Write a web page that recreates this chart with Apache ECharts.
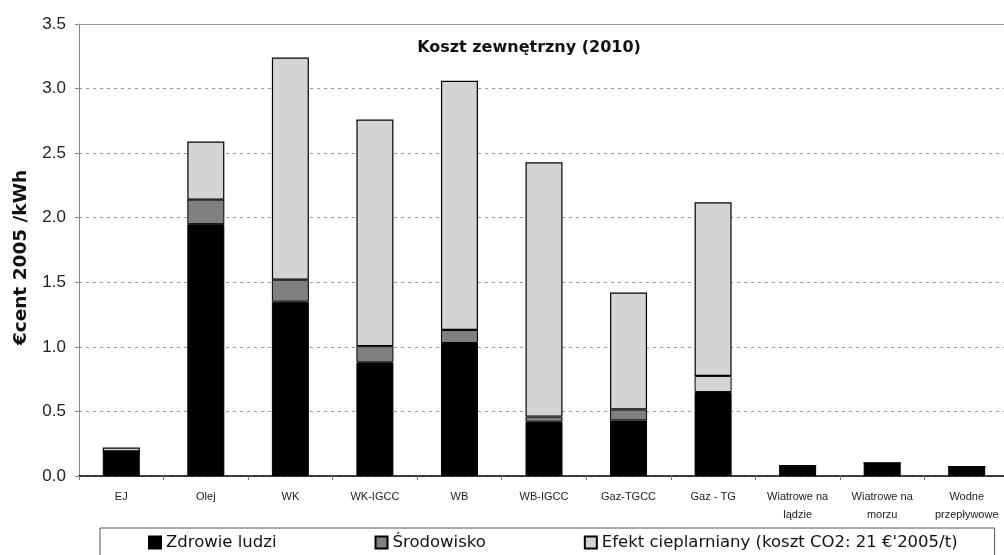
<!DOCTYPE html>
<html>
<head>
<meta charset="utf-8">
<script src="https://cdn.jsdelivr.net/npm/echarts@6/dist/echarts.min.js"></script>
<style>html,body{margin:0;padding:0;background:#fff;}#c{width:1004px;height:555px;}</style>
</head>
<body>
<div id="c"></div>
<script>
const categories = ['EJ','Olej','WK','WK-IGCC','WB','WB-IGCC','Gaz-TGCC','Gaz - TG','Wiatrowe na\nlądzie','Wiatrowe na\nmorzu','Wodne\nprzepływowe'];
const zdrowie = [0.19, 1.95, 1.35, 0.88, 1.03, 0.42, 0.43, 0.65, 0.08, 0.10, 0.072];
const srodowisko = [0, 0.19, 0.17, 0.125, 0.10, 0.04, 0.085, 0.125, 0, 0, 0];
const efekt = [0.03, 0.45, 1.72, 1.755, 1.93, 1.97, 0.905, 1.345, 0, 0, 0];
const yTicks = [0, 0.5, 1.0, 1.5, 2.0, 2.5, 3.0, 3.5];
const seriesNames = ['Zdrowie ludzi', 'Środowisko', "Efekt cieplarniany (koszt CO2: 21 €'2005/t)"];
// in the source, the Gaz - TG middle segment is drawn in light grey
const lightSegmentIndex = 7;

const FONT = 'Liberation Sans, Arial, sans-serif';
const WIDE = 'DejaVu Sans, sans-serif';
const chart = echarts.init(document.getElementById('c'));
const barBase = { type: 'bar', stack: 'total', barWidth: 37, xAxisIndex: 0 };
const envData = srodowisko.map((v, i) => i === lightSegmentIndex ? { value: v, itemStyle: { color: '#d4d4d4' } } : v);

chart.setOption({
  animation: false,
  backgroundColor: '#fff',
  title: {
    text: 'Koszt zewnętrzny (2010)',
    left: 524, top: 35, textAlign: 'center',
    textStyle: { fontFamily: WIDE, fontSize: 16, fontWeight: 'bold', color: '#111' }
  },
  grid: { left: 79, right: -5, top: 24, bottom: 79, outerBoundsMode: 'none', containLabel: false },
  legend: {
    left: 100, top: 528,
    padding: [6, 37, 10, 48],
    itemGap: 98,
    itemWidth: 12, itemHeight: 12,
    borderColor: '#555', borderWidth: 1,
    icon: 'rect',
    textStyle: { fontFamily: WIDE, fontSize: 16.5, color: '#111' },
    data: seriesNames
  },
  graphic: [{
    type: 'text', x: 21.5, y: 257.5, rotation: Math.PI / 2,
    style: { text: '€cent 2005 /kWh', fontFamily: WIDE, fontSize: 18.5, fontWeight: 'bold', fill: '#111',
      textAlign: 'center', textVerticalAlign: 'middle' }
  }],
  xAxis: [{
    type: 'category', data: categories, position: 'bottom',
    axisLine: { lineStyle: { color: '#000', width: 1.5 } },
    axisTick: { show: true, length: 4, lineStyle: { color: '#777' } },
    axisLabel: { fontFamily: FONT, fontSize: 11, color: '#222', margin: 12, lineHeight: 18, interval: 0 }
  }, {
    type: 'category', data: categories, position: 'top',
    axisLine: { show: true, lineStyle: { color: '#999', width: 1 } },
    axisTick: { show: false }, axisLabel: { show: false }
  }],
  yAxis: {
    type: 'value', min: 0, max: 3.5, interval: 0.5,
    axisLine: { show: true, lineStyle: { color: '#888', width: 1 } },
    axisTick: { show: true, length: 4, lineStyle: { color: '#888' } },
    axisLabel: { fontFamily: FONT, fontSize: 17, color: '#222', margin: 13,
      formatter: v => yTicks.includes(v) ? v.toFixed(1) : '' },
    splitLine: { show: true, lineStyle: { color: '#999', type: [3, 4], width: 1 } }
  },
  series: [
    Object.assign({}, barBase, { name: seriesNames[0], data: zdrowie,
      itemStyle: { color: '#000', borderColor: '#000', borderWidth: 1 } }),
    Object.assign({}, barBase, { name: seriesNames[1], data: envData,
      itemStyle: { color: '#808080', borderColor: '#000', borderWidth: 1 } }),
    Object.assign({}, barBase, { name: seriesNames[2], data: efekt,
      itemStyle: { color: '#d4d4d4', borderColor: '#000', borderWidth: 1.2 } })
  ]
});
</script>
</body>
</html>
